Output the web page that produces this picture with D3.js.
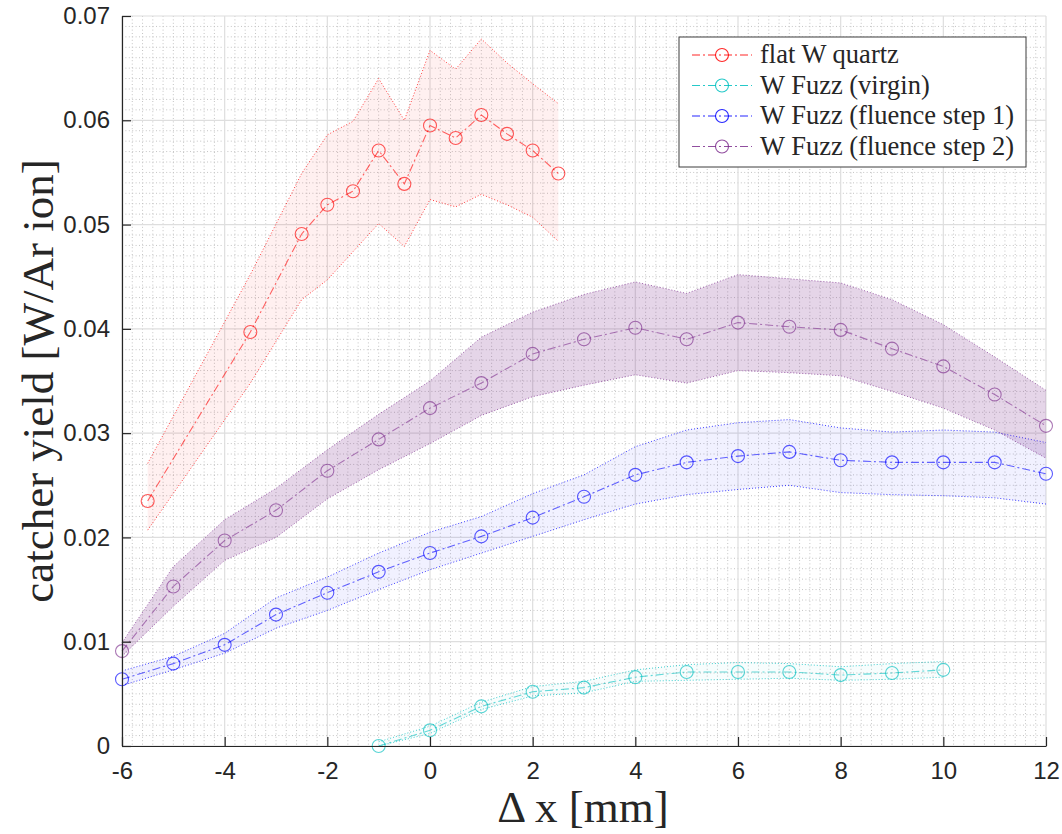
<!DOCTYPE html>
<html lang="en">
<head>
  <meta charset="UTF-8" />
  <title>catcher yield</title>
  <script src="https://d3js.org/d3.v7.min.js"></script>
  <style>
    * { margin: 0; padding: 0; }
    body { background: #fff; }
    svg { display: block; }
    .tick text { font-family: 'Liberation Sans', Arial, sans-serif; font-size: 24px; fill: #262626; }
    .lbl { font-family: 'Liberation Serif', 'DejaVu Serif', serif; fill: #262626; }
  </style>
</head>
<body>
  <svg id="chart" width="1062" height="834"></svg>
  <script>
    // flat W quartz
    const xQuartz  = [-5.5, -3.5, -2.5, -2, -1.5, -1, -0.5, 0, 0.5, 1, 1.5, 2, 2.5];
    const yQuartz  = [0.0235, 0.0397, 0.0491, 0.0519, 0.0532, 0.0571, 0.0539, 0.0595, 0.0583, 0.0605, 0.0587, 0.0571, 0.0549];
    const hiQuartz = [0.0271, 0.0452, 0.0549, 0.0586, 0.0599, 0.0640, 0.0600, 0.0667, 0.0649, 0.0678, 0.0655, 0.0635, 0.0616];
    const loQuartz = [0.0207, 0.0348, 0.0428, 0.0447, 0.0474, 0.0501, 0.0479, 0.0524, 0.0517, 0.0529, 0.0519, 0.0507, 0.0484];

    // W Fuzz (virgin)
    const xVirgin  = [-1, 0, 1, 2, 3, 4, 5, 6, 7, 8, 9, 10];
    const yVirgin  = [0.0000, 0.0015, 0.0038, 0.0052, 0.0056, 0.0066, 0.0071, 0.0071, 0.0071, 0.0068, 0.0070, 0.0073];
    const hiVirgin = [0.0004, 0.0019, 0.0042, 0.0057, 0.0062, 0.0073, 0.0078, 0.0080, 0.0079, 0.0076, 0.0079, 0.0081];
    const loVirgin = [0.0000, 0.0012, 0.0035, 0.0048, 0.0051, 0.0062, 0.0063, 0.0064, 0.0065, 0.0063, 0.0064, 0.0066];

    // W Fuzz, fluence steps
    const xStep  = [-6, -5, -4, -3, -2, -1, 0, 1, 2, 3, 4, 5, 6, 7, 8, 9, 10, 11, 12];
    const yStep1  = [0.0064, 0.0079, 0.0097, 0.0126, 0.0147, 0.0167, 0.0185, 0.0201, 0.0219, 0.0239, 0.0260, 0.0272, 0.0278, 0.0282, 0.0274, 0.0272, 0.0272, 0.0272, 0.0261];
    const hiStep1 = [0.0072, 0.0086, 0.0108, 0.0142, 0.0162, 0.0185, 0.0205, 0.0220, 0.0242, 0.0260, 0.0287, 0.0303, 0.0310, 0.0313, 0.0305, 0.0301, 0.0303, 0.0301, 0.0291];
    const loStep1 = [0.0058, 0.0073, 0.0089, 0.0113, 0.0130, 0.0150, 0.0169, 0.0185, 0.0201, 0.0217, 0.0232, 0.0241, 0.0246, 0.0250, 0.0243, 0.0241, 0.0240, 0.0238, 0.0232];
    const yStep2  = [0.0091, 0.0153, 0.0197, 0.0226, 0.0264, 0.0294, 0.0324, 0.0348, 0.0376, 0.0390, 0.0401, 0.0390, 0.0406, 0.0402, 0.0399, 0.0381, 0.0364, 0.0337, 0.0307];
    const hiStep2 = [0.0099, 0.0172, 0.0217, 0.0247, 0.0284, 0.0318, 0.0350, 0.0392, 0.0416, 0.0433, 0.0445, 0.0434, 0.0452, 0.0448, 0.0444, 0.0428, 0.0404, 0.0373, 0.0341];
    const loStep2 = [0.0086, 0.0134, 0.0178, 0.0200, 0.0237, 0.0265, 0.0290, 0.0317, 0.0335, 0.0346, 0.0356, 0.0348, 0.0360, 0.0358, 0.0355, 0.0340, 0.0324, 0.0303, 0.0276];

    const xTicks = [-6, -4, -2, 0, 2, 4, 6, 8, 10, 12];
    const yTicks = [0, 0.01, 0.02, 0.03, 0.04, 0.05, 0.06, 0.07];

    const series = [
      { name: 'flat W quartz', xs: xQuartz, ys: yQuartz, hi: hiQuartz, lo: loQuartz, color: '#ff0000', fill: 0.06 },
      { name: 'W Fuzz (virgin)', xs: xVirgin, ys: yVirgin, hi: hiVirgin, lo: loVirgin, color: '#00bfbf', fill: 0.03 },
      { name: 'W Fuzz (fluence step 1)', xs: xStep, ys: yStep1, hi: hiStep1, lo: loStep1, color: '#0000ff', fill: 0.055 },
      { name: 'W Fuzz (fluence step 2)', xs: xStep, ys: yStep2, hi: hiStep2, lo: loStep2, color: '#7e2f8e', fill: 0.2 }
    ];

    const L = 122, R = 1046, T = 16, B = 746;
    const svg = d3.select('#chart');
    const x = d3.scaleLinear().domain([-6, 12]).range([L, R]);
    const y = d3.scaleLinear().domain([0, 0.07]).range([B, T]);

    // minor grid (dotted)
    const minorX = d3.range(0, 91).map(i => -6 + i * 0.2).filter(v => Math.abs(v / 2 - Math.round(v / 2)) > 1e-6);
    const minorY = d3.range(0, 71).map(i => i * 0.001).filter((v, i) => i % 10 !== 0);
    const grid = svg.append('g');
    grid.selectAll('.mx').data(minorX).join('line')
      .attr('x1', d => x(d)).attr('x2', d => x(d)).attr('y1', T).attr('y2', B)
      .attr('stroke', '#c4c4c4').attr('stroke-width', 1).attr('stroke-dasharray', '1,2.4');
    grid.selectAll('.my').data(minorY).join('line')
      .attr('y1', d => y(d)).attr('y2', d => y(d)).attr('x1', L).attr('x2', R)
      .attr('stroke', '#c4c4c4').attr('stroke-width', 1).attr('stroke-dasharray', '1,2.4');
    // major grid
    grid.selectAll('.gx').data(xTicks).join('line')
      .attr('x1', d => x(d)).attr('x2', d => x(d)).attr('y1', T).attr('y2', B)
      .attr('stroke', '#dedede').attr('stroke-width', 1.2);
    grid.selectAll('.gy').data(yTicks).join('line')
      .attr('y1', d => y(d)).attr('y2', d => y(d)).attr('x1', L).attr('x2', R)
      .attr('stroke', '#dedede').attr('stroke-width', 1.2);

    const area = d3.area().x(d => x(d.x)).y0(d => y(d.lo)).y1(d => y(d.hi));
    const line = d3.line().x(d => x(d[0])).y(d => y(d[1]));

    series.forEach(s => {
      const pts = s.xs.map((v, i) => ({ x: v, y: s.ys[i], hi: s.hi[i], lo: s.lo[i] }));
      const g = svg.append('g');
      g.append('path').datum(pts).attr('d', area)
        .attr('fill', s.color).attr('fill-opacity', s.fill).attr('stroke', 'none');
      ['hi', 'lo'].forEach(k => {
        g.append('path').datum(pts.map(p => [p.x, p[k]])).attr('d', line)
          .attr('fill', 'none').attr('stroke', s.color).attr('stroke-width', 1)
          .attr('stroke-opacity', 0.75).attr('stroke-dasharray', '1,2');
      });
      g.append('path').datum(pts.map(p => [p.x, p.y])).attr('d', line)
        .attr('fill', 'none').attr('stroke', s.color).attr('stroke-width', 1.1)
        .attr('stroke-opacity', 0.6).attr('stroke-dasharray', '8,3,2,3');
      g.selectAll('circle').data(pts).join('circle')
        .attr('cx', d => x(d.x)).attr('cy', d => y(d.y)).attr('r', 6.5)
        .attr('fill', 'none').attr('stroke', s.color).attr('stroke-width', 1.1)
        .attr('stroke-opacity', 0.65);
    });

    // axes
    const ax = svg.append('g').attr('transform', `translate(0,${B})`)
      .call(d3.axisBottom(x).tickValues(xTicks).tickSize(-9).tickSizeOuter(0).tickPadding(16).tickFormat(d => String(d)));
    const ay = svg.append('g').attr('transform', `translate(${L},0)`)
      .call(d3.axisLeft(y).tickValues(yTicks).tickSize(-9).tickSizeOuter(0).tickPadding(12)
        .tickFormat(d => d === 0 ? '0' : d.toFixed(2)));
    [ax, ay].forEach(a => {
      a.select('.domain').attr('stroke', '#262626').attr('stroke-width', 1.2);
      a.selectAll('.tick line').attr('stroke', '#262626').attr('stroke-width', 1.2);
    });

    svg.append('text').attr('class', 'lbl').attr('x', (L + R) / 2 - 1).attr('y', 822)
      .attr('text-anchor', 'middle').attr('font-size', 45).text('Δ x [mm]');
    svg.append('text').attr('class', 'lbl').attr('transform', `translate(53,381) rotate(-90)`)
      .attr('text-anchor', 'middle').attr('font-size', 45).text('catcher yield [W/Ar ion]');

    // legend
    const lg = svg.append('g');
    lg.append('rect').attr('x', 679).attr('y', 37).attr('width', 347).attr('height', 130)
      .attr('fill', '#fff').attr('stroke', '#3c3c3c').attr('stroke-width', 1);
    series.forEach((s, i) => {
      const cy = 55 + i * 30.5;
      lg.append('line').attr('x1', 692).attr('x2', 752).attr('y1', cy).attr('y2', cy)
        .attr('stroke', s.color).attr('stroke-width', 1.1).attr('stroke-dasharray', '8,3,2,3')
        .attr('stroke-opacity', 0.85);
      lg.append('circle').attr('cx', 722).attr('cy', cy).attr('r', 6.5)
        .attr('fill', 'none').attr('stroke', s.color).attr('stroke-width', 1.1).attr('stroke-opacity', 0.85);
      lg.append('text').attr('class', 'lbl').attr('x', 760).attr('y', cy + 8)
        .attr('font-size', 26.5).text(s.name);
    });
  </script>
</body>
</html>
